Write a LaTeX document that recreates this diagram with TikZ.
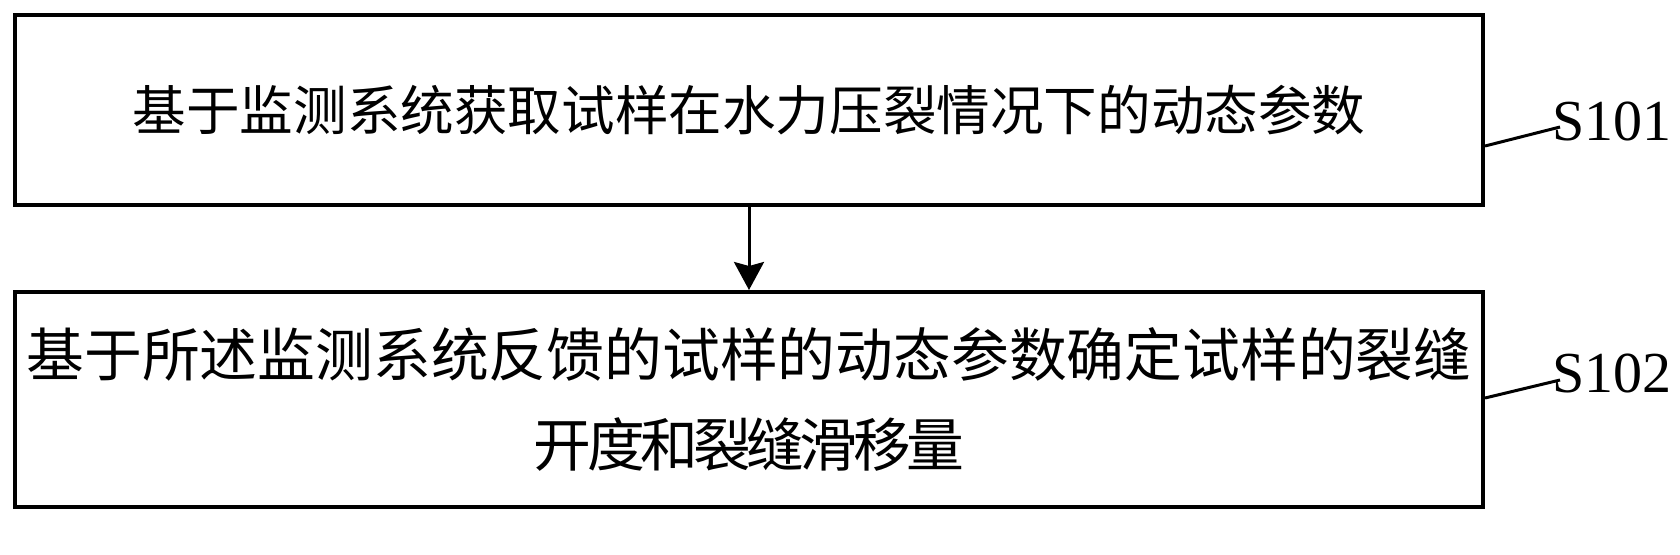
\documentclass[tikz,border=0pt]{standalone}
\usepackage{fontspec}
\setmainfont{Liberation Serif}
\newfontfamily\cjk{Noto Sans CJK SC}
\newfontfamily\cjknarrow{Noto Sans CJK SC}[LetterSpace=-8]
\usetikzlibrary{arrows.meta}
\begin{document}
\begin{tikzpicture}[x=0.5pt, y=-0.5pt,
    stepbox/.style={draw, line width=2pt, rectangle, inner sep=0pt, minimum width=734pt},
    steplabel/.style={anchor=base west, inner sep=0pt, font=\fontsize{29}{34}\selectfont},
    leader/.style={line width=1.5pt}]
  \useasboundingbox (0,0) rectangle (1680,554);
  % boxes
  \node[stepbox, minimum height=95pt, font={\cjk\fontsize{26.8}{32}\selectfont}] (s1) at (749,110)
    {基于监测系统获取试样在水力压裂情况下的动态参数};
  \node[stepbox, minimum height=107.5pt, align=center, font={\cjk\fontsize{28.9}{45}\selectfont}] (s2) at (749,399.5)
    {基于所述监测系统反馈的试样的动态参数确定试样的裂缝\\{\cjknarrow 开度和裂缝滑移量}};
  % labels
  \node[steplabel] (l1) at (1552,140) {S101};
  \node[steplabel] (l2) at (1552,392) {S102};
  \coordinate (t1) at (1560,127);
  \coordinate (t2) at (1560,380);
  % connectors
  \draw[line width=1.5pt, -{Stealth[length=14pt, width=15pt, inset=2pt]}] (s1.south) -- (s2.north);
  \draw[leader] ([yshift=-18pt]s1.east) -- (t1);
  \draw[leader] ([yshift=0.75pt]s2.east) -- (t2);
\end{tikzpicture}
\end{document}
